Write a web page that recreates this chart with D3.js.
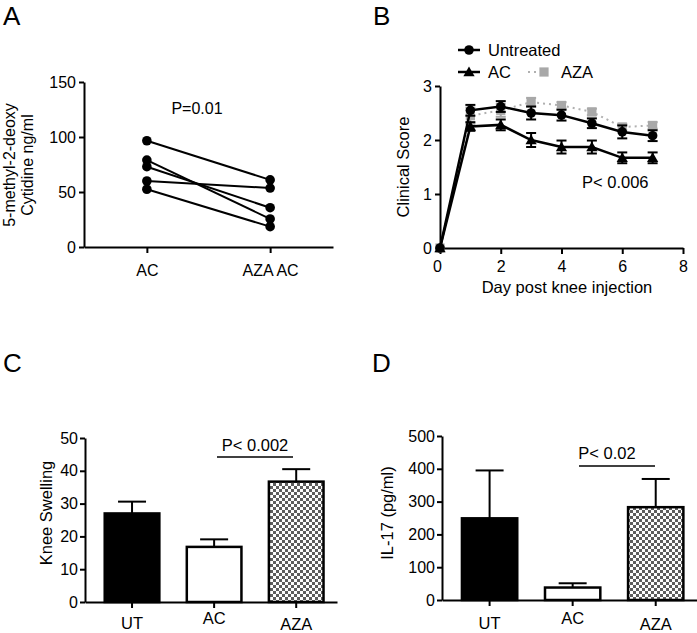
<!DOCTYPE html>
<html><head><meta charset="utf-8">
<script src="https://cdn.jsdelivr.net/npm/d3@7"></script>
<style>
html,body{margin:0;padding:0;background:#fff;}
svg{display:block;font-family:"Liberation Sans",Arial,sans-serif;}
</style></head>
<body>
<svg id="chart" width="697" height="633"></svg>
<script>
// ---------- DATA ----------
// Panel A (paired)
const aCategories = ["AC", "AZA AC"];
const aBefore = [96.6, 79, 73, 60, 52.5];
const aAfter  = [61, 25.5, 35.7, 53.6, 18.5];
const aTicks = [0, 50, 100, 150];
const aPText = "P=0.01";
// Panel B (time course)
const bDays = [0, 1, 2, 3, 4, 5, 6, 7];
const bUntreated    = [0, 2.55, 2.62, 2.5, 2.46, 2.31, 2.15, 2.08];
const bUntreatedErr = [0, 0.1, 0.1, 0.12, 0.1, 0.09, 0.12, 0.1];
const bAC     = [0, 2.25, 2.28, 2.0, 1.87, 1.87, 1.67, 1.67];
const bACErr  = [0, 0.08, 0.1, 0.13, 0.12, 0.12, 0.1, 0.1];
const bAZA    = [0, 2.45, 2.55, 2.7, 2.64, 2.52, 2.24, 2.27];
const bAZAErr = [0, 0.15, 0.12, 0.08, 0.06, 0.06, 0.06, 0.06];
const bXTicks = [0, 2, 4, 6, 8];
const bYTicks = [0, 1, 2, 3];
const bPText = "P< 0.006";
// Panel C (knee swelling)
const barCategories = ["UT", "AC", "AZA"];
const cValues = [27, 16.8, 36.7];
const cErr    = [3.6, 2.3, 3.8];
const cTicks = [0, 10, 20, 30, 40, 50];
const cPText = "P< 0.002";
// Panel D (IL-17)
const dValues = [249, 38, 283];
const dErr    = [146, 13, 86];
const dTicks = [0, 100, 200, 300, 400, 500];
const dPText = "P< 0.02";

// ---------- SETUP ----------
const svg = d3.select("#chart");
const defs = svg.append("defs");
const pat = defs.append("pattern").attr("id","checker").attr("patternUnits","userSpaceOnUse")
  .attr("width",6).attr("height",6);
pat.append("rect").attr("width",6).attr("height",6).attr("fill","#fff");
pat.append("rect").attr("x",0).attr("y",0).attr("width",3).attr("height",3).attr("fill","#5e5e5e");
pat.append("rect").attr("x",3).attr("y",3).attr("width",3).attr("height",3).attr("fill","#5e5e5e");

function styleAxis(g, fs){
  g.selectAll(".domain").attr("stroke","#000").attr("stroke-width",2);
  g.selectAll(".tick line").attr("stroke","#000").attr("stroke-width",2);
  g.selectAll(".tick text").attr("fill","#000").attr("font-size",fs)
    .attr("font-family","'Liberation Sans',Arial,sans-serif");
}
function panelLabel(t,x,y){
  svg.append("text").attr("x",x).attr("y",y).attr("font-size",26).attr("fill","#000").text(t);
}
function yTitle(lines,x,cy,fs){
  const t = svg.append("text").attr("transform",`translate(${x},${cy}) rotate(-90)`)
    .attr("text-anchor","middle").attr("font-size",fs).attr("fill","#000");
  lines.forEach((l,i)=>{
    t.append("tspan").attr("x",0).attr("dy", i===0 ? -(lines.length-1)*0.55+"em" : "1.1em").text(l);
  });
}

// ---------- PANEL A ----------
panelLabel("A",3,25);
{
  const x = d3.scalePoint().domain(aCategories).range([84,333]).padding(0.51);
  const y = d3.scaleLinear().domain([0,150]).range([247,82]);
  const gx = svg.append("g").attr("transform","translate(0,247)")
    .call(d3.axisBottom(x).tickSize(6).tickSizeOuter(0).tickPadding(12));
  styleAxis(gx,16);
  const gy = svg.append("g").attr("transform","translate(84,0)")
    .call(d3.axisLeft(y).tickValues(aTicks).tickSize(5).tickSizeOuter(0).tickPadding(3));
  styleAxis(gy,16);
  aBefore.forEach((v,i)=>{
    svg.append("line").attr("x1",x(aCategories[0])).attr("y1",y(v))
      .attr("x2",x(aCategories[1])).attr("y2",y(aAfter[i]))
      .attr("stroke","#000").attr("stroke-width",2);
  });
  svg.selectAll(".aPt0").data(aBefore).enter().append("circle")
    .attr("cx",x(aCategories[0])).attr("cy",d=>y(d)).attr("r",4.8).attr("fill","#000");
  svg.selectAll(".aPt1").data(aAfter).enter().append("circle")
    .attr("cx",x(aCategories[1])).attr("cy",d=>y(d)).attr("r",4.8).attr("fill","#000");
  svg.append("text").attr("x",197).attr("y",114).attr("text-anchor","middle")
    .attr("font-size",16).text(aPText);
  yTitle(["5-methyl-2-deoxy","Cytidine ng/ml"],24,165,16);
}

// ---------- PANEL B ----------
panelLabel("B",373,25);
{
  const x = d3.scaleLinear().domain([0,8]).range([440,683]);
  const y = d3.scaleLinear().domain([0,3]).range([248,86]);
  const gx = svg.append("g").attr("transform","translate(0,248)")
    .call(d3.axisBottom(x).tickValues(bXTicks).tickFormat(d3.format("d")).tickSize(6).tickSizeOuter(0).tickPadding(7));
  styleAxis(gx,16);
  gx.selectAll(".tick text").filter(d=>d===0).attr("dx",-3);
  const gy = svg.append("g").attr("transform","translate(440,0)")
    .call(d3.axisLeft(y).tickValues(bYTicks).tickFormat(d3.format("d")).tickSize(5).tickSizeOuter(0).tickPadding(3));
  styleAxis(gy,16);

  const line = d3.line().x((d,i)=>x(bDays[i])).y(d=>y(d));
  function errBars(vals, errs, color){
    vals.forEach((v,i)=>{
      if(errs[i]<=0) return;
      const cx = x(bDays[i]);
      svg.append("line").attr("x1",cx).attr("x2",cx).attr("y1",y(v-errs[i])).attr("y2",y(v+errs[i]))
        .attr("stroke",color).attr("stroke-width",2);
      [v-errs[i], v+errs[i]].forEach(e=>{
        svg.append("line").attr("x1",cx-5).attr("x2",cx+5).attr("y1",y(e)).attr("y2",y(e))
          .attr("stroke",color).attr("stroke-width",2);
      });
    });
  }
  // AZA (behind)
  errBars(bAZA,bAZAErr,"#a8a8a8");
  svg.append("path").datum(bAZA).attr("d",line).attr("fill","none")
    .attr("stroke","#b0b0b0").attr("stroke-width",2).attr("stroke-dasharray","2,4");
  svg.selectAll(".bAza").data(bAZA).enter().append("path")
    .attr("transform",(d,i)=>`translate(${x(bDays[i])},${y(d)})`)
    .attr("d",d3.symbol(d3.symbolSquare,85)).attr("fill","#a8a8a8");
  // AC
  errBars(bAC,bACErr,"#000");
  svg.append("path").datum(bAC).attr("d",line).attr("fill","none")
    .attr("stroke","#000").attr("stroke-width",2.5);
  svg.selectAll(".bAc").data(bAC).enter().append("path")
    .attr("transform",(d,i)=>`translate(${x(bDays[i])},${y(d)+1})`)
    .attr("d",d3.symbol(d3.symbolTriangle,55)).attr("fill","#000");
  // Untreated
  errBars(bUntreated,bUntreatedErr,"#000");
  svg.append("path").datum(bUntreated).attr("d",line).attr("fill","none")
    .attr("stroke","#000").attr("stroke-width",2.5);
  svg.selectAll(".bUt").data(bUntreated).enter().append("circle")
    .attr("cx",(d,i)=>x(bDays[i])).attr("cy",d=>y(d)).attr("r",4.8).attr("fill","#000");

  // legend
  svg.append("line").attr("x1",458).attr("x2",480).attr("y1",50).attr("y2",50).attr("stroke","#000").attr("stroke-width",2.5);
  svg.append("circle").attr("cx",469).attr("cy",50).attr("r",4.8).attr("fill","#000");
  svg.append("text").attr("x",488).attr("y",56).attr("font-size",16.5).text("Untreated");
  svg.append("line").attr("x1",458).attr("x2",480).attr("y1",72).attr("y2",72).attr("stroke","#000").attr("stroke-width",2.5);
  svg.append("path").attr("transform","translate(469,73)").attr("d",d3.symbol(d3.symbolTriangle,55)).attr("fill","#000");
  svg.append("text").attr("x",488).attr("y",78).attr("font-size",16.5).text("AC");
  svg.append("line").attr("x1",528).attr("x2",548).attr("y1",72).attr("y2",72).attr("stroke","#b0b0b0").attr("stroke-width",2).attr("stroke-dasharray","2,4");
  svg.append("path").attr("transform","translate(544,72)").attr("d",d3.symbol(d3.symbolSquare,85)).attr("fill","#a8a8a8");
  svg.append("text").attr("x",561).attr("y",78).attr("font-size",16.5).text("AZA");

  svg.append("text").attr("x",582).attr("y",188).attr("font-size",16.5).text(bPText);
  svg.append("text").attr("x",567).attr("y",293).attr("text-anchor","middle").attr("font-size",16.5).text("Day post knee injection");
  yTitle(["Clinical Score"],409,167,16.5);
}

// ---------- BAR PANELS ----------
function barPanel(opts){
  const {x0,x1,y0,y1,maxV,ticks,values,errs,pText,pLine,pTextPos,title,titleX,tickPad} = opts;
  const x = d3.scaleBand().domain(barCategories).range([x0,x1])
    .paddingInner(0.31).paddingOuter(0.19).align(0.6);
  const y = d3.scaleLinear().domain([0,maxV]).range([y0,y1]);
  const fills = ["#000","#fff","url(#checker)"];
  // error bars (upper only)
  values.forEach((v,i)=>{
    const cx = x(barCategories[i]) + x.bandwidth()/2;
    svg.append("line").attr("x1",cx).attr("x2",cx).attr("y1",y(v)).attr("y2",y(v+errs[i]))
      .attr("stroke","#000").attr("stroke-width",2);
    svg.append("line").attr("x1",cx-14).attr("x2",cx+14).attr("y1",y(v+errs[i])).attr("y2",y(v+errs[i]))
      .attr("stroke","#000").attr("stroke-width",2);
  });
  svg.selectAll(null).data(values).enter().append("rect")
    .attr("x",(d,i)=>x(barCategories[i])+1).attr("width",x.bandwidth()-2)
    .attr("y",d=>y(d)).attr("height",d=>y0-y(d))
    .attr("fill",(d,i)=>fills[i]).attr("stroke","#000").attr("stroke-width",2.5);
  const gx = svg.append("g").attr("transform",`translate(0,${y0})`)
    .call(d3.axisBottom(x).tickSize(6).tickSizeOuter(0).tickPadding(tickPad));
  styleAxis(gx,16.5);
  const dys = [0,-5,1];
  gx.selectAll(".tick text").attr("transform",(d,i)=>`translate(0,${dys[i]})`);
  const gy = svg.append("g").attr("transform",`translate(${x0},0)`)
    .call(d3.axisLeft(y).tickValues(ticks).tickSize(5).tickSizeOuter(0).tickPadding(2));
  styleAxis(gy,16);
  // significance bar
  svg.append("line").attr("x1",pLine[0]).attr("x2",pLine[1]).attr("y1",pLine[2]).attr("y2",pLine[2])
    .attr("stroke","#000").attr("stroke-width",1.5);
  svg.append("text").attr("x",pTextPos[0]).attr("y",pTextPos[1]).attr("text-anchor","middle")
    .attr("font-size",16.5).text(pText);
  yTitle([title],titleX,513,16.5);
}

panelLabel("C",3,372);
barPanel({x0:85,x1:337,y0:602,y1:438,maxV:50,ticks:cTicks,values:cValues,errs:cErr,
  pText:cPText,pLine:[217,293,457],pTextPos:[255,451],title:"Knee Swelling",titleX:52,tickPad:9});

panelLabel("D",372,372);
barPanel({x0:442,x1:697,y0:600,y1:436,maxV:500,ticks:dTicks,values:dValues,errs:dErr,
  pText:dPText,pLine:[579,655,466],pTextPos:[607,459],title:"IL-17 (pg/ml)",titleX:393,tickPad:11});
</script>
</body></html>
